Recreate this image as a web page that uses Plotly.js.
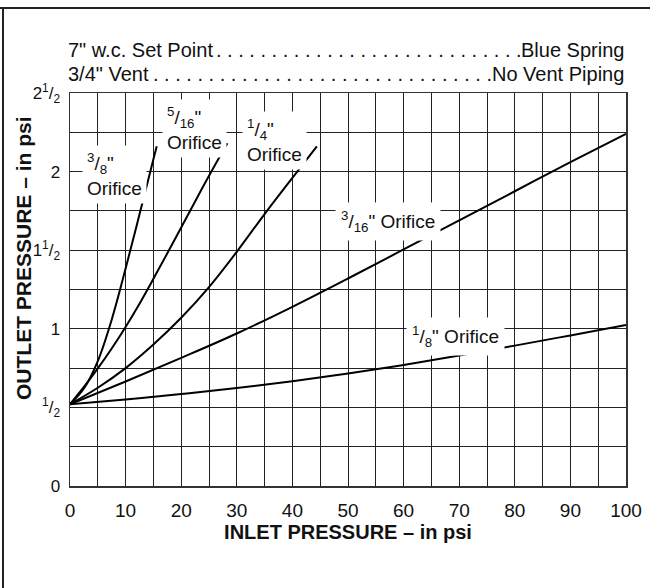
<!DOCTYPE html>
<html><head><meta charset="utf-8">
<script src="https://cdn.plot.ly/plotly-3.0.1.min.js"></script>
<style>html,body{margin:0;padding:0;background:#fff}</style>
</head><body><div id="chart" style="width:650px;height:588px"></div>
<script>
// ---- data ----
const inlet38  = [0, 2.5, 5, 7.5, 10, 12.5, 15, 15.6];
const outlet38 = [0.52, 0.62, 0.795, 1.058, 1.383, 1.728, 2.078, 2.162];
const inlet516  = [0, 2.5, 5, 7.5, 10, 12.5, 15, 17.5, 20, 22.5, 25, 28.3];
const outlet516 = [0.52, 0.63, 0.748, 0.875, 1.012, 1.16, 1.318, 1.48, 1.645, 1.81, 1.973, 2.18];
const inlet14  = [0, 5, 10, 15, 20, 25, 30, 35, 40, 44.4];
const outlet14 = [0.52, 0.625, 0.75, 0.90, 1.07, 1.265, 1.49, 1.73, 1.96, 2.16];
const inlet316  = [0, 10, 20, 30, 40, 50, 60, 70, 80, 90, 100];
const outlet316 = [0.52, 0.665, 0.815, 0.97, 1.14, 1.32, 1.505, 1.69, 1.875, 2.06, 2.24];
const inlet18  = [0, 10, 20, 30, 40, 50, 60, 70, 80, 90, 100];
const outlet18 = [0.52, 0.551, 0.585, 0.623, 0.666, 0.715, 0.77, 0.83, 0.893, 0.958, 1.024];

const seriesNames = ['3/8" Orifice', '5/16" Orifice', '1/4" Orifice', '3/16" Orifice', '1/8" Orifice'];
const curveLabels = [
  '<sup>3</sup>/<sub>8</sub>"<br>Orifice',
  '<sup>5</sup>/<sub>16</sub>"<br>Orifice',
  '<sup>1</sup>/<sub>4</sub>"<br>Orifice',
  '<sup>3</sup>/<sub>16</sub>" Orifice',
  '<sup>1</sup>/<sub>8</sub>" Orifice'
];

const xTickVals = [0, 10, 20, 30, 40, 50, 60, 70, 80, 90, 100];
const xTickText = ['0', '10', '20', '30', '40', '50', '60', '70', '80', '90', '100'];
const yTickVals = [0, 0.5, 1.0, 1.5, 2.0, 2.5];
const yTickText = ['0', '<sup>1</sup>/<sub>2</sub>', '1', '1<sup>1</sup>/<sub>2</sub>', '2', '2<sup>1</sup>/<sub>2</sub>'];

const headerLeft  = ['7" w.c. Set Point', '3/4" Vent'];
const headerRight = ['Blue Spring', 'No Vent Piping'];
const xTitle = 'INLET PRESSURE – in psi';
const yTitle = 'OUTLET PRESSURE – in psi';

// ---- layout geometry ----
const W = 650, H = 588;
const M = {l: 70, r: 24, t: 93, b: 102};
const PW = W - M.l - M.r, PH = H - M.t - M.b;
const px2paperX = px => (px - M.l) / PW;
const px2paperY = py => (H - M.b - py) / PH;
const FONT = 'Liberation Sans, Arial, Helvetica, sans-serif';
const GRID = '#222';

const xs = [inlet38, inlet516, inlet14, inlet316, inlet18];
const ys = [outlet38, outlet516, outlet14, outlet316, outlet18];
const traces = xs.map((x, i) => ({
  type: 'scatter', mode: 'lines', x: x, y: ys[i], name: seriesNames[i],
  line: {color: '#000', width: 2, shape: 'spline', smoothing: 1},
  hoverinfo: 'skip', showlegend: false
}));

// dotted leaders measured with canvas
const ctx = document.createElement('canvas').getContext('2d');
const HFS = 20;
ctx.font = HFS + "px 'Liberation Sans'";
const leftPx = 66, rightPx = 626;
function leader(l, r) {
  const avail = (rightPx - ctx.measureText(r).width) - (leftPx + ctx.measureText(l).width);
  const unit = ctx.measureText('. ').width;
  const n = Math.max(1, Math.floor((avail + ctx.measureText(' ').width) / unit));
  const s = Array(n).fill('.').join(' ');
  const w = ctx.measureText(s).width;
  const start = leftPx + ctx.measureText(l).width + (avail - w) / 2;
  return {s: s, start: start};
}

const annotations = [];
const headerY = [50, 74];
headerLeft.forEach((l, i) => {
  const r = headerRight[i];
  const d = leader(l, r);
  const f = {family: FONT, size: HFS, color: '#111'};
  annotations.push({xref: 'paper', yref: 'paper', x: px2paperX(leftPx), y: px2paperY(headerY[i]),
    xanchor: 'left', yanchor: 'middle', text: l, showarrow: false, font: f});
  annotations.push({xref: 'paper', yref: 'paper', x: px2paperX(d.start), y: px2paperY(headerY[i]),
    xanchor: 'left', yanchor: 'middle', text: d.s, showarrow: false, font: f});
  annotations.push({xref: 'paper', yref: 'paper', x: px2paperX(rightPx), y: px2paperY(headerY[i]),
    xanchor: 'right', yanchor: 'middle', text: r, showarrow: false, font: f});
});

// curve labels (white boxes)
const labelPos = [
  {x: 2.2, y: 1.98, xa: 'left'},
  {x: 16.6, y: 2.275, xa: 'left'},
  {x: 31.0, y: 2.2, xa: 'left'},
  {x: 57.2, y: 1.68, xa: 'center'},
  {x: 69.3, y: 0.948, xa: 'center'}
];
curveLabels.forEach((t, i) => {
  annotations.push({x: labelPos[i].x, y: labelPos[i].y, xref: 'x', yref: 'y', text: t, showarrow: false,
    xanchor: labelPos[i].xa, yanchor: 'middle', align: 'left', bgcolor: '#fff', borderpad: i > 2 ? 5 : 4,
    font: {family: FONT, size: 19, color: '#111'}});
});

// y title placed to match reference
annotations.push({xref: 'paper', yref: 'paper', x: px2paperX(23), y: px2paperY(258), textangle: -90,
  xanchor: 'center', yanchor: 'middle', text: '<b>' + yTitle + '</b>', showarrow: false,
  font: {family: FONT, size: 21, color: '#111'}});

const shapes = [
  {type: 'line', xref: 'paper', yref: 'paper', x0: px2paperX(0), x1: px2paperX(W), y0: px2paperY(8), y1: px2paperY(8),
   line: {color: '#222', width: 2}},
  {type: 'line', xref: 'paper', yref: 'paper', x0: px2paperX(3), x1: px2paperX(3), y0: px2paperY(7), y1: px2paperY(H),
   line: {color: '#222', width: 2}}
];

const layout = {
  width: W, height: H, margin: M,
  paper_bgcolor: '#fff', plot_bgcolor: '#fff', showlegend: false,
  font: {family: FONT, color: '#111'},
  xaxis: {range: [0, 100], tickmode: 'array', tickvals: xTickVals, ticktext: xTickText,
    showgrid: true, gridcolor: GRID, gridwidth: 1, zeroline: false,
    minor: {dtick: 5, tick0: 0, showgrid: true, gridcolor: GRID, gridwidth: 1, ticks: ''},
    showline: true, mirror: true, linecolor: '#333', linewidth: 1.5, ticks: '',
    tickfont: {family: FONT, size: 19, color: '#111'}, ticklabelstandoff: 7, fixedrange: true,
    title: {text: '<b>' + xTitle + '</b>', font: {family: FONT, size: 20, color: '#111'}, standoff: 3}},
  yaxis: {range: [0, 2.5], tickmode: 'array', tickvals: yTickVals, ticktext: yTickText,
    showgrid: true, gridcolor: GRID, gridwidth: 1, zeroline: false,
    minor: {dtick: 0.25, tick0: 0, showgrid: true, gridcolor: GRID, gridwidth: 1, ticks: ''},
    showline: true, mirror: true, linecolor: '#333', linewidth: 1.5, ticks: '',
    tickfont: {family: FONT, size: 17, color: '#111'}, ticklabelstandoff: 5, fixedrange: true},
  annotations: annotations, shapes: shapes
};
Plotly.newPlot('chart', traces, layout, {displayModeBar: false, staticPlot: true});
</script></body></html>
